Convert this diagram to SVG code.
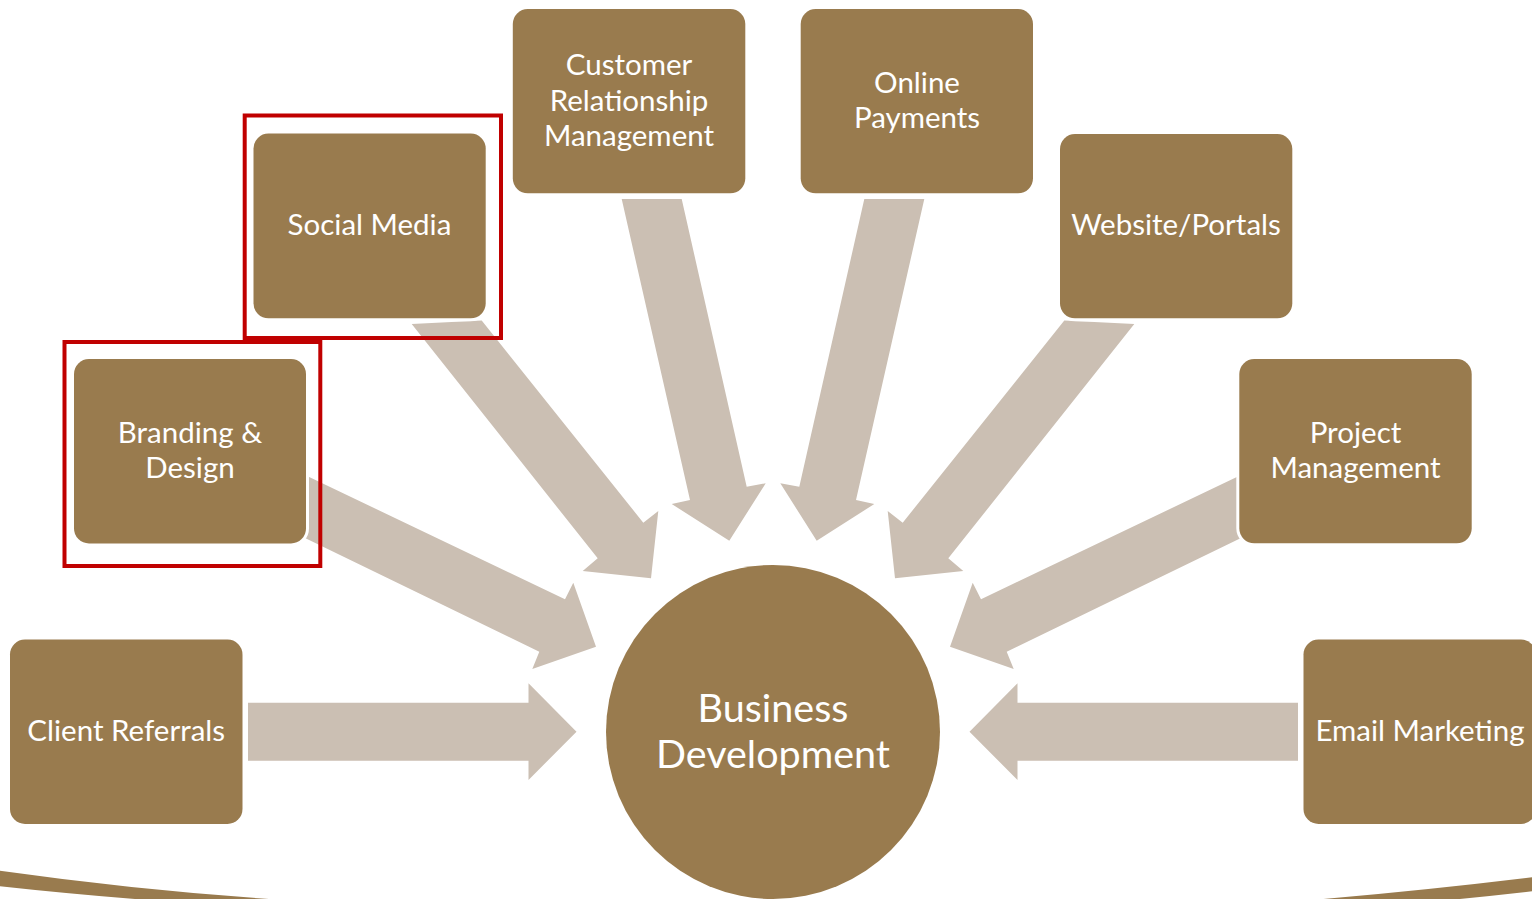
<svg xmlns="http://www.w3.org/2000/svg" width="1532" height="899" viewBox="0 0 1532 899">
  <style>
    .box { fill: #997B4E; stroke: #FFFFFF; stroke-width: 6; paint-order: stroke; }
    .arrow { fill: #CBBFB3; }
    .frame { fill: none; stroke: #C00000; stroke-width: 4; }
    .lbl { fill: #FFFFFF; font-family: Lato, "Liberation Sans", sans-serif; font-size: 29.5px; text-anchor: middle; }
    .hub { fill: #FFFFFF; font-family: Lato, "Liberation Sans", sans-serif; font-size: 39.5px; text-anchor: middle; }
    .base { fill: #997B4E; }
  </style>

  <rect width="1532" height="899" fill="#FFFFFF"/>

  <!-- curved base band at the bottom edge -->
  <g id="base-band">
    <path class="base" d="M -2,870.5 Q 150,892 300,901 L 160,901 Q 70,894 -2,886 Z"/>
    <path class="base" d="M 1534,877 Q 1420,891 1300,901 L 1440,901 Q 1490,896 1534,891 Z"/>
  </g>

  <!-- block arrows feeding the hub -->
  <g id="connectors">
    <polygon class="arrow" points="248,702.7 528.5,702.7 528.5,683.3 576.5,731.7 528.5,780 528.5,760.7 248,760.7"/>
    <polygon class="arrow" points="1298,702.7 1017.5,702.7 1017.5,683.3 969.5,731.7 1017.5,780 1017.5,760.7 1298,760.7"/>
    <polygon class="arrow" points="305,475 565,599.3 573.3,582.7 596,646.7 532.3,669 539.3,651.7 305,538"/>
    <polygon class="arrow" points="1241,475 981,599.3 972.7,582.7 950,646.7 1013.7,669 1006.7,651.7 1241,538"/>
    <polygon class="arrow" points="411.7,324 481.7,320.5 643.3,522.7 658.3,511 651,578.3 582.7,571 597.7,558.3"/>
    <polygon class="arrow" points="1134.3,324 1064.3,320.5 902.7,522.7 887.7,511 895,578.3 963.3,571 948.3,558.3"/>
    <polygon class="arrow" points="621.7,199 681.7,199 746.7,486.7 765.7,483.3 729.3,540.7 671.7,504 690,500"/>
    <polygon class="arrow" points="924.3,199 864.3,199 799.3,486.7 780.3,483.3 816.7,540.7 874.3,504 856,500"/>
  </g>

  <g id="hub">
    <circle cx="773" cy="732" r="167" fill="#997B4E"/>
    <text class="hub" x="773" y="722">Business</text>
    <text class="hub" x="773" y="768">Development</text>
  </g>

  <g id="client-referrals">
    <rect class="box" x="10" y="639.5" width="232.5" height="184.5" rx="15"/>
    <text class="lbl" x="126.2" y="741">Client Referrals</text>
  </g>

  <g id="branding-design">
    <rect class="box" x="74" y="359" width="232" height="184.5" rx="15"/>
    <text class="lbl" x="190" y="442.5">Branding &amp;</text>
    <text class="lbl" x="190" y="477.7">Design</text>
    <rect class="frame" x="64.5" y="342" width="255.8" height="224"/>
  </g>

  <g id="social-media">
    <rect class="box" x="253.5" y="133.5" width="232.2" height="184.8" rx="15"/>
    <text class="lbl" x="369.5" y="235">Social Media</text>
    <rect class="frame" x="244.7" y="115.5" width="256.3" height="222.5"/>
  </g>

  <g id="crm">
    <rect class="box" x="512.8" y="9" width="232.5" height="184.3" rx="15"/>
    <text class="lbl" x="629" y="75.3">Customer</text>
    <text class="lbl" x="629" y="110.5">Relationship</text>
    <text class="lbl" x="629" y="145.7">Management</text>
  </g>

  <g id="online-payments">
    <rect class="box" x="800.7" y="9" width="232.3" height="184.3" rx="15"/>
    <text class="lbl" x="917" y="93.3">Online</text>
    <text class="lbl" x="917" y="128.3">Payments</text>
  </g>

  <g id="website-portals">
    <rect class="box" x="1060" y="134" width="232.3" height="184.3" rx="15"/>
    <text class="lbl" x="1176" y="235">Website/Portals</text>
  </g>

  <g id="project-management">
    <rect class="box" x="1239.3" y="359" width="232.4" height="184.3" rx="15"/>
    <text class="lbl" x="1355.5" y="442.7">Project</text>
    <text class="lbl" x="1355.5" y="478">Management</text>
  </g>

  <g id="email-marketing">
    <rect class="box" x="1303.5" y="639.5" width="232.5" height="184.5" rx="15"/>
    <text class="lbl" x="1420" y="741">Email Marketing</text>
  </g>
</svg>
